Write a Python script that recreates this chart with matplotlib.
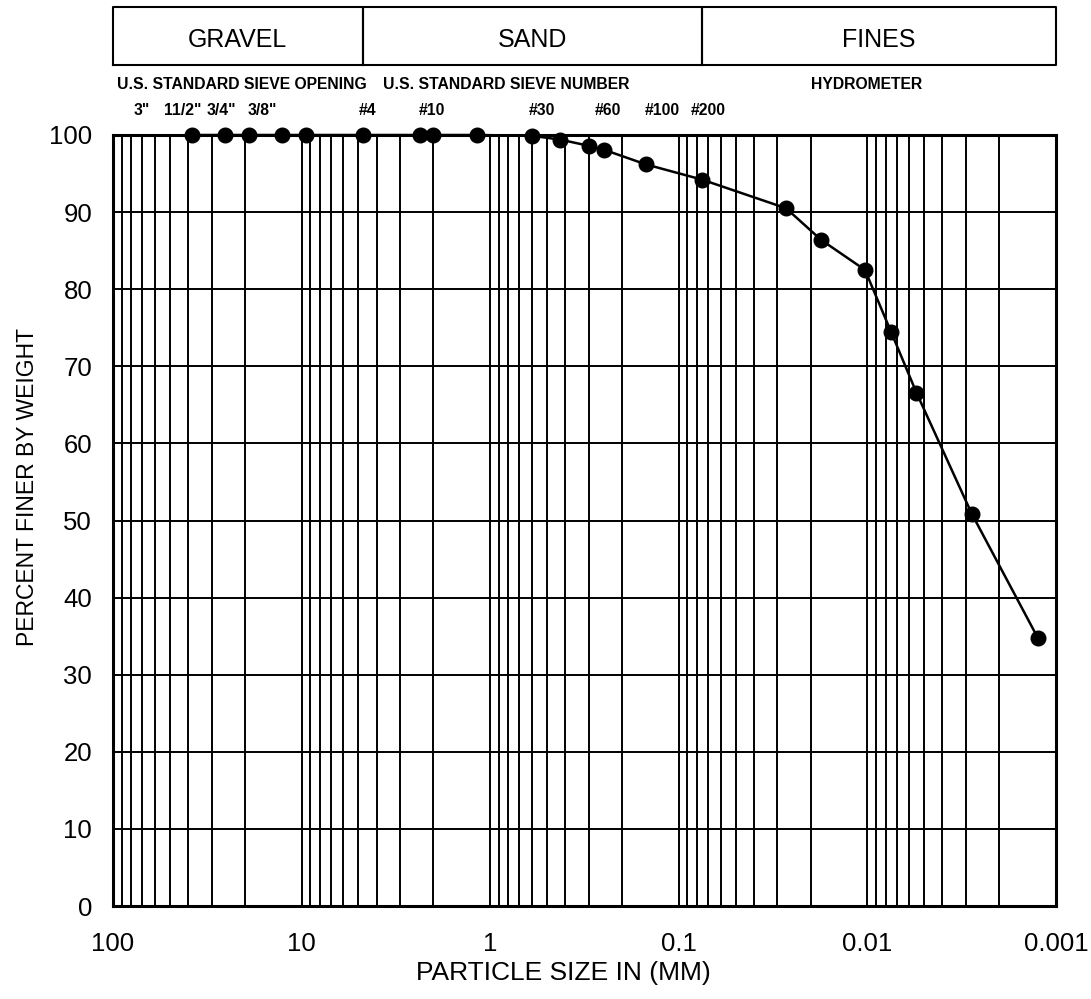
import numpy as np
import matplotlib
matplotlib.use("Agg")
import matplotlib.pyplot as plt
from matplotlib.ticker import LogLocator, FixedLocator, NullFormatter

plt.rcParams['font.family'] = ['Liberation Sans', 'DejaVu Sans']

# grain size data (mm) and percent finer
sizes_mm = [38.1, 25.4, 19.05, 12.7, 9.525, 4.75, 2.36, 2.0, 1.18,
            0.6, 0.425, 0.3, 0.25, 0.15, 0.075,
            0.027, 0.0176, 0.0103, 0.0075, 0.0055, 0.0028, 0.00125]
percent_finer = [100, 100, 100, 100, 100, 100, 100, 100, 100,
                 99.9, 99.4, 98.6, 98.1, 96.2, 94.2,
                 90.5, 86.4, 82.5, 74.5, 66.6, 50.9, 34.8]

x_ticks = [100, 10, 1, 0.1, 0.01, 0.001]
x_ticklabels = ["100", "10", "1", "0.1", "0.01", "0.001"]
y_ticks = [0, 10, 20, 30, 40, 50, 60, 70, 80, 90, 100]

zones = ["GRAVEL", "SAND", "FINES"]
zone_limits = [100, 4.75, 0.075, 0.001]

sieve_labels = ['3"', '11/2"', '3/4"', '3/8"', '#4', '#10', '#30', '#60', '#100', '#200']
sieve_label_px = [142, 183, 221, 262, 368, 432, 542, 608, 662, 708]

fig = plt.figure(figsize=(10.91, 9.99), dpi=100)
ax = fig.add_axes([113/1091, 1 - 906/999, 943/1091, 771/999])

ax.set_xscale('log')
ax.set_xlim(100, 0.001)
ax.set_ylim(0, 100)

ax.plot(sizes_mm, percent_finer, color='black', lw=1.8, marker='o',
        markersize=10.5, zorder=5, clip_on=False)

# grid
ax.xaxis.set_major_locator(FixedLocator(x_ticks))
ax.set_xticklabels(x_ticklabels)
ax.xaxis.set_minor_locator(LogLocator(base=10, subs=np.arange(2, 10), numticks=20))
ax.xaxis.set_minor_formatter(NullFormatter())
ax.set_yticks(y_ticks)
ax.grid(which='both', axis='x', color='black', lw=1.4)
ax.grid(which='major', axis='y', color='black', lw=1.4)
ax.tick_params(which='both', length=0)
ax.tick_params(axis='x', pad=19, labelsize=18.5)
ax.tick_params(axis='y', pad=15, labelsize=18.5)
for s in ax.spines.values():
    s.set_linewidth(2.2)

ax.set_xlabel('PARTICLE SIZE IN (MM)', fontsize=19)
ax.xaxis.set_label_coords(0.478, -0.071)
ax.set_ylabel('PERCENT FINER BY WEIGHT', fontsize=16.5)
ax.yaxis.set_label_coords(-0.079, 0.543)

# classification boxes above the plot
trans = ax.get_xaxis_transform()
y_lo, y_hi = 1.091, 1.166
for i, name in enumerate(zones):
    x0, x1 = zone_limits[i], zone_limits[i + 1]
    ax.plot([x0, x1, x1, x0, x0], [y_lo, y_lo, y_hi, y_hi, y_lo], color='black',
            lw=1.5, transform=trans, clip_on=False)
    xc = np.sqrt(x0 * x1)
    ax.text(xc, 1.114, name, transform=trans, ha='center', va='baseline',
            fontsize=18)

ax.text(0.004, 1.065, 'U.S. STANDARD SIEVE OPENING', transform=ax.transAxes,
        ha='left', va='center', fontsize=11.3, fontweight='bold')
ax.text((383 - 113) / 943, 1.065, 'U.S. STANDARD SIEVE NUMBER', transform=ax.transAxes,
        ha='left', va='center', fontsize=11.3, fontweight='bold')
ax.text((867 - 113) / 943, 1.065, 'HYDROMETER', transform=ax.transAxes,
        ha='center', va='center', fontsize=11.3, fontweight='bold')
for lab, px in zip(sieve_labels, sieve_label_px):
    ax.text((px - 113) / 943, 1.032, lab, transform=ax.transAxes,
            ha='center', va='center', fontsize=11.3, fontweight='bold')

fig.savefig('out.png', dpi=100)
